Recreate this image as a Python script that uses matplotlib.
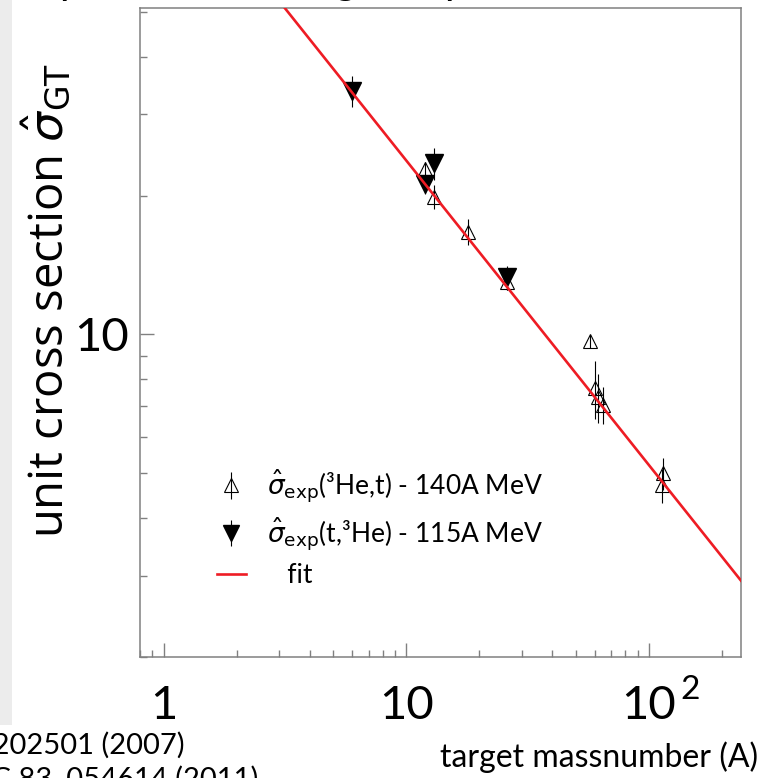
import matplotlib
matplotlib.use("Agg")
import matplotlib.pyplot as plt
import numpy as np
from matplotlib.ticker import LogLocator, NullFormatter
from matplotlib.patches import Rectangle

plt.rcParams['font.family'] = ['Lato', 'DejaVu Sans']
plt.rcParams['mathtext.fontset'] = 'dejavusans'

# (3He,t) at 140A MeV - open triangles
he3t_A = [12, 13, 18, 26, 57, 60, 62, 65, 113, 115]
he3t_sig = [22.8, 19.9, 16.7, 13.0, 9.66, 7.67, 7.33, 7.04, 4.72, 5.01]
he3t_err = [0.9, 1.2, 1.1, 0.5, 0.3, 1.1, 0.9, 0.65, 0.4, 0.4]

# (t,3He) at 115A MeV - filled triangles
the3_A = [6, 12, 13, 26]
the3_sig = [33.7, 21.2, 23.5, 13.3]
the3_err = [2.6, 1.0, 1.9, 0.8]

# fit: sigma = N * A^(-p)
fit_N = 109.0
fit_p = 0.66
fit_A = [0.8, 240.0]

xlim = (0.8, 240)
ylim = (2.0, 51.0)

x_ticks = [1, 10, 100]
x_ticklabels = ['1', '10', '10']
y_ticks = [10]
y_ticklabels = ['10']

W, H = 765, 778
fig = plt.figure(figsize=(W / 100, H / 100), dpi=100)
fig.patch.set_facecolor('white')

# light gray strip on left edge
fig.patches.append(Rectangle((0, (H - 725) / H), 12 / W, 725 / H, transform=fig.transFigure,
                             facecolor='#ececec', edgecolor='none', zorder=0))

L, R, B, T = 140, 741, 657, 8
ax = fig.add_axes([L / W, (H - B) / H, (R - L) / W, (B - T) / H])
ax.set_xscale('log')
ax.set_yscale('log')
ax.set_xlim(*xlim)
ax.set_ylim(*ylim)

xs = np.geomspace(fit_A[0], fit_A[1], 200)
ax.plot(xs, fit_N * xs ** (-fit_p), color='#ee1c24', lw=1.9, zorder=5, label='   fit')

ax.errorbar(he3t_A, he3t_sig, yerr=he3t_err, fmt='^', ms=10.5, mfc='none', mec='black',
            mew=0.8, ecolor='black', elinewidth=0.8, capsize=0, zorder=3,
            label=r'$\hat{\sigma}_{\rm exp}$(³He,t) - 140A MeV')
ax.errorbar(the3_A, the3_sig, yerr=the3_err, fmt='v', ms=13, mfc='black', mec='black',
            ecolor='black', elinewidth=0.8, capsize=0, zorder=4,
            label=r'$\hat{\sigma}_{\rm exp}$(t,³He) - 115A MeV')

for s in ax.spines.values():
    s.set_color('#808080')
    s.set_linewidth(1.1)

ax.set_xticks(x_ticks, x_ticklabels)
ax.xaxis.set_minor_locator(LogLocator(base=10, subs=np.arange(1, 10), numticks=20))
ax.xaxis.set_minor_formatter(NullFormatter())
ax.set_yticks(y_ticks, y_ticklabels)
ax.yaxis.set_minor_locator(LogLocator(base=10, subs=np.arange(1, 10), numticks=20))
ax.yaxis.set_minor_formatter(NullFormatter())

ax.tick_params(which='both', direction='in', color='#808080', width=1.0)
ax.tick_params(which='major', length=10)
ax.tick_params(which='minor', length=5)
ax.tick_params(axis='x', which='major', labelsize=34, pad=20)
ax.tick_params(axis='y', which='major', labelsize=34, pad=8)

# exponent of the 10^2 tick label
fig.text(680 / W, 1 - 690 / H, '2', ha='left', va='center', fontsize=24)

# y label
fig.text(48 / W, 1 - 300 / H, r'unit cross section $\hat{\sigma}_{\rm GT}$', rotation=90,
         ha='center', va='center', fontsize=34, family=['Open Sans', 'DejaVu Sans'])
# x label
fig.text(440 / W, 1 - 757 / H, 'target massnumber (A)', ha='left', va='center', fontsize=23)

# legend
handles, labels = ax.get_legend_handles_labels()
order = [1, 2, 0]
leg = ax.legend([handles[i] for i in order], [labels[i] for i in order],
                loc='upper left', bbox_to_anchor=(0.128, 0.292), frameon=False,
                fontsize=19, handlelength=1.1, handletextpad=0.8, labelspacing=0.38,
                borderpad=0, borderaxespad=0, markerscale=0.9)

# cut-off citation text at bottom left
fig.text(185 / W, 1 - 745 / H, 'PRL 99, 202501 (2007)', ha='right', va='center', fontsize=21)
fig.text(258 / W, 1 - 779 / H, 'PRC 83, 054614 (2011)', ha='right', va='center', fontsize=21)

# cut-off title fragments at the very top (only descenders visible)
for cx, ch in [(71, 'p'), (346, 'g'), (456, 'p')]:
    fig.text(cx / W, 1 + 6 / H, ch, ha='center', va='baseline', fontsize=30)

fig.savefig('out.png', dpi=100)
